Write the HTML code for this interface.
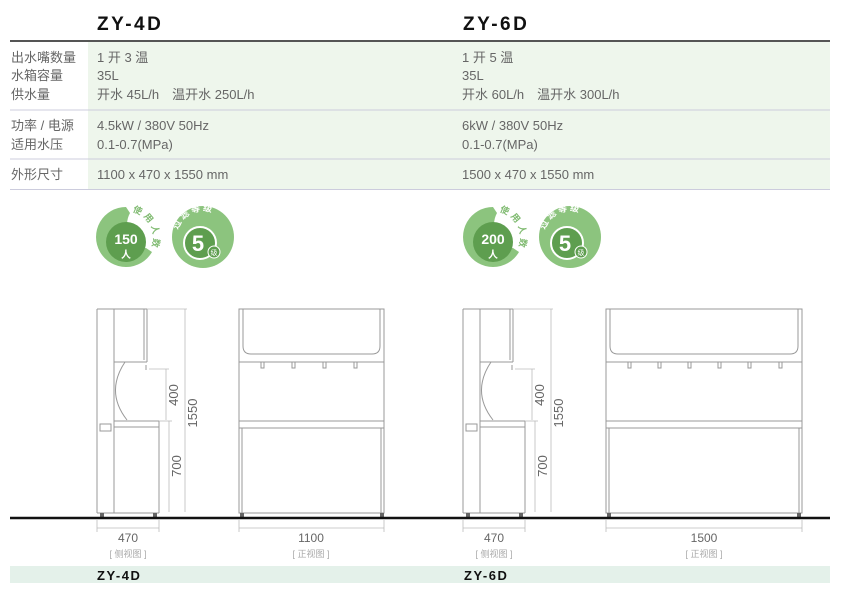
<!DOCTYPE html>
<html><head><meta charset="utf-8"><style>
html,body{margin:0;padding:0;background:#fff;width:845px;height:594px;overflow:hidden}
svg{display:block}
text{font-family:"Liberation Sans","Noto Sans CJK SC",sans-serif}
</style></head><body>
<svg width="845" height="594" viewBox="0 0 845 594" xmlns="http://www.w3.org/2000/svg">
<defs>
<path id="arc1" d="M132 212 A26 26 0 0 1 150 250"/>
<path id="arc2" d="M178 230 A26 26 0 0 1 228 230"/>
<g id="badges">
<path d="M126 207 A30 30 0 1 0 152 252 L146 248 A24 24 0 0 1 130 213 Z" fill="#8cc47e"/>
<circle cx="126" cy="242" r="20" fill="#5e9e4f"/>
<text x="126" y="244" font-size="14" font-weight="bold" fill="#fff" text-anchor="middle">150</text>
<text x="126" y="258" font-size="10" font-weight="bold" fill="#fff" text-anchor="middle">人</text>
<text font-size="9" fill="#7fba70" font-weight="bold" letter-spacing="3"><textPath href="#arc1">使用人数</textPath></text>
<circle cx="203" cy="237" r="31" fill="#8cc47e"/>
<circle cx="200" cy="243" r="16" fill="#5e9e4f" stroke="#fff" stroke-width="2"/>
<text x="198" y="251" font-size="22" font-weight="bold" fill="#fff" text-anchor="middle">5</text>
<text font-size="9" fill="#fff" font-weight="bold" letter-spacing="2"><textPath href="#arc2">过滤等级</textPath></text>
<circle cx="214" cy="252" r="6" fill="#5e9e4f" stroke="#fff" stroke-width="1"/>
<text x="214" y="255" font-size="7" fill="#fff" text-anchor="middle">级</text>
</g>
<g id="side">
  <g fill="none" stroke="#999" stroke-width="1">
    <line x1="0" y1="309" x2="0" y2="513"/>
    <line x1="0" y1="309" x2="50" y2="309"/>
    <line x1="17" y1="309" x2="17" y2="513"/>
    <line x1="50" y1="309" x2="50" y2="362"/>
    <line x1="47" y1="309" x2="47" y2="360"/>
    <line x1="17" y1="362" x2="50" y2="362"/>
    <path d="M28 362 Q8 392 30 420"/>
    <line x1="17" y1="421" x2="62" y2="421"/>
    <line x1="17" y1="427" x2="62" y2="427"/>
    <line x1="62" y1="421" x2="62" y2="513"/>
    <line x1="0" y1="513" x2="62" y2="513"/>
    <rect x="3" y="424" width="11" height="7"/>
    <line x1="49" y1="365" x2="49" y2="370"/>
  </g>
  <rect x="3" y="513" width="4" height="5" fill="#666"/>
  <rect x="56" y="513" width="4" height="5" fill="#666"/>
  <g stroke="#bbb" stroke-width="0.8" fill="none">
    <line x1="52" y1="369" x2="72" y2="369"/>
    <line x1="69" y1="369" x2="69" y2="420"/>
    <line x1="62" y1="421" x2="75" y2="421"/>
    <line x1="72" y1="421" x2="72" y2="512"/>
    <line x1="50" y1="309" x2="90" y2="309"/>
    <line x1="88" y1="309" x2="88" y2="512"/>
    <line x1="0" y1="520" x2="0" y2="532"/>
    <line x1="62" y1="520" x2="62" y2="532"/>
    <line x1="0" y1="528" x2="62" y2="528"/>
  </g>
  <text transform="translate(81 395) rotate(-90)" font-size="13" fill="#666" text-anchor="middle">400</text>
  <text transform="translate(84 466) rotate(-90)" font-size="13" fill="#666" text-anchor="middle">700</text>
  <text transform="translate(100 413) rotate(-90)" font-size="13" fill="#666" text-anchor="middle">1550</text>
  <text x="31" y="542" font-size="12" fill="#666" text-anchor="middle">470</text>
  <text x="31" y="557" font-size="9" fill="#aaa" text-anchor="middle">[ 侧视图 ]</text>
</g>
</defs>

<rect x="88" y="41" width="742" height="149" fill="#eef6ec"/>
<line x1="10" y1="41" x2="830" y2="41" stroke="#555" stroke-width="2"/>
<g stroke="#ccd" stroke-width="1">
<line x1="10" y1="110" x2="830" y2="110"/>
<line x1="10" y1="159" x2="830" y2="159"/>
<line x1="10" y1="189.5" x2="830" y2="189.5"/>
</g>
<text x="97" y="30" font-size="19" font-weight="bold" fill="#111" letter-spacing="2.5">ZY-4D</text>
<text x="463" y="30" font-size="19" font-weight="bold" fill="#111" letter-spacing="2.5">ZY-6D</text>
<g font-size="13" fill="#666">
<text x="11" y="62">出水嘴数量</text><text x="11" y="80">水箱容量</text><text x="11" y="99">供水量</text>
<text x="11" y="130">功率 / 电源</text><text x="11" y="149">适用水压</text>
<text x="11" y="179">外形尺寸</text>
<text x="97" y="62">1 开 3 温</text><text x="97" y="80">35L</text><text x="97" y="99">开水 45L/h　温开水 250L/h</text>
<text x="97" y="130">4.5kW / 380V  50Hz</text><text x="97" y="149">0.1-0.7(MPa)</text>
<text x="97" y="179">1100 x 470 x 1550 mm</text>
<text x="462" y="62">1 开 5 温</text><text x="462" y="80">35L</text><text x="462" y="99">开水 60L/h　温开水 300L/h</text>
<text x="462" y="130">6kW / 380V  50Hz</text><text x="462" y="149">0.1-0.7(MPa)</text>
<text x="462" y="179">1500 x 470 x 1550 mm</text>
</g>

<use href="#badges"/>
<g transform="translate(367 0)">
<path d="M126 207 A30 30 0 1 0 152 252 L146 248 A24 24 0 0 1 130 213 Z" fill="#8cc47e"/>
<circle cx="126" cy="242" r="20" fill="#5e9e4f"/>
<text x="126" y="244" font-size="14" font-weight="bold" fill="#fff" text-anchor="middle">200</text>
<text x="126" y="258" font-size="10" font-weight="bold" fill="#fff" text-anchor="middle">人</text>
<text font-size="9" fill="#7fba70" font-weight="bold" letter-spacing="3"><textPath href="#arc1">使用人数</textPath></text>
<circle cx="203" cy="237" r="31" fill="#8cc47e"/>
<circle cx="200" cy="243" r="16" fill="#5e9e4f" stroke="#fff" stroke-width="2"/>
<text x="198" y="251" font-size="22" font-weight="bold" fill="#fff" text-anchor="middle">5</text>
<text font-size="9" fill="#fff" font-weight="bold" letter-spacing="2"><textPath href="#arc2">过滤等级</textPath></text>
<circle cx="214" cy="252" r="6" fill="#5e9e4f" stroke="#fff" stroke-width="1"/>
<text x="214" y="255" font-size="7" fill="#fff" text-anchor="middle">级</text>
</g>

<use href="#side" x="97" y="0"/>
<use href="#side" x="463" y="0"/>

<g fill="none" stroke="#999" stroke-width="1">
<rect x="239" y="309" width="145" height="204"/>
<path d="M243 309 V346 Q243 354 251 354 H372 Q380 354 380 346 V309"/>
<line x1="239" y1="362" x2="384" y2="362"/>
<line x1="239" y1="421" x2="384" y2="421"/>
<line x1="239" y1="428" x2="384" y2="428"/>
<line x1="242" y1="428" x2="242" y2="513"/>
<line x1="381" y1="428" x2="381" y2="513"/>
<path d="M261 362 V368 H264 V362 M292 362 V368 H295 V362 M323 362 V368 H326 V362 M354 362 V368 H357 V362"/>
</g>
<rect x="240" y="513" width="4" height="5" fill="#666"/><rect x="380" y="513" width="4" height="5" fill="#666"/>
<g stroke="#bbb" stroke-width="0.8"><line x1="239" y1="520" x2="239" y2="532"/><line x1="384" y1="520" x2="384" y2="532"/><line x1="239" y1="528" x2="384" y2="528"/></g>
<text x="311" y="542" font-size="12" fill="#666" text-anchor="middle">1100</text>
<text x="311" y="557" font-size="9" fill="#aaa" text-anchor="middle">[ 正视图 ]</text>

<g fill="none" stroke="#999" stroke-width="1">
<rect x="606" y="309" width="196" height="204"/>
<path d="M610 309 V346 Q610 354 618 354 H790 Q798 354 798 346 V309"/>
<line x1="606" y1="362" x2="802" y2="362"/>
<line x1="606" y1="421" x2="802" y2="421"/>
<line x1="606" y1="428" x2="802" y2="428"/>
<line x1="609" y1="428" x2="609" y2="513"/>
<line x1="799" y1="428" x2="799" y2="513"/>
<path d="M628 362 V368 H631 V362 M658 362 V368 H661 V362 M688 362 V368 H691 V362 M718 362 V368 H721 V362 M748 362 V368 H751 V362 M779 362 V368 H782 V362"/>
</g>
<rect x="607" y="513" width="4" height="5" fill="#666"/><rect x="797" y="513" width="4" height="5" fill="#666"/>
<g stroke="#bbb" stroke-width="0.8"><line x1="606" y1="520" x2="606" y2="532"/><line x1="802" y1="520" x2="802" y2="532"/><line x1="606" y1="528" x2="802" y2="528"/></g>
<text x="704" y="542" font-size="12" fill="#666" text-anchor="middle">1500</text>
<text x="704" y="557" font-size="9" fill="#aaa" text-anchor="middle">[ 正视图 ]</text>

<line x1="10" y1="518" x2="830" y2="518" stroke="#111" stroke-width="2.5"/>

<rect x="10" y="566" width="820" height="17" fill="#e4f1ea"/>
<text x="97" y="580" font-size="13" font-weight="bold" fill="#111" letter-spacing="1.5">ZY-4D</text>
<text x="464" y="580" font-size="13" font-weight="bold" fill="#111" letter-spacing="1.5">ZY-6D</text>
</svg>
</body></html>
